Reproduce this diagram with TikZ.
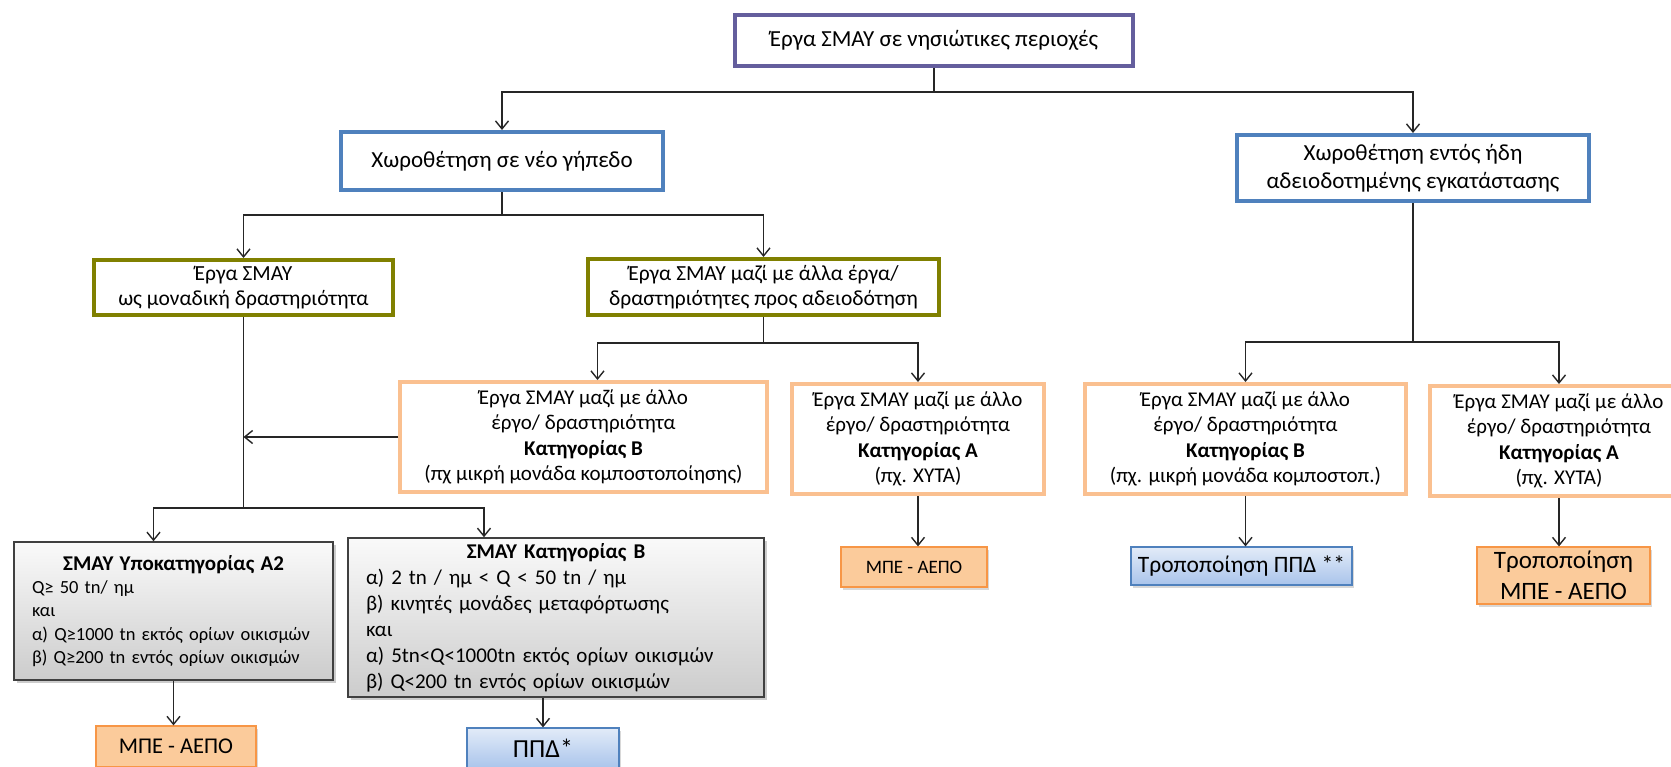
\documentclass[tikz,border=0pt]{standalone}
\usepackage{fontspec}
\setmainfont{Carlito}
\usetikzlibrary{arrows.meta,shadows}
\definecolor{region}{HTML}{645E9D}
\definecolor{siting}{HTML}{4F81BD}
\definecolor{smaygrp}{HTML}{808000}
\definecolor{category}{HTML}{FAC090}
\definecolor{mpefill}{HTML}{FBCB9B}
\definecolor{mpeline}{HTML}{F79646}
\definecolor{ppdtop}{HTML}{E2EBF8}
\definecolor{ppdbot}{HTML}{A9C4EB}

\begin{document}
\begin{tikzpicture}[x=1pt, y=-1pt,
    box/.style={rectangle, inner sep=0pt, align=center},
    topbx/.style={box, draw=region, line width=4pt, font=\fontsize{23}{28}\selectfont},
    sitebx/.style={box, draw=siting, line width=4pt, font=\fontsize{23}{28}\selectfont},
    grpbx/.style={box, draw=smaygrp, line width=4pt, font=\fontsize{21.5}{25}\selectfont},
    catbx/.style={box, draw=category, line width=4pt, font=\fontsize{21}{25.5}\selectfont},
    critbx/.style={box, align=left, inner xsep=18pt, draw=black!75, line width=1.5pt,
      top color=gray!4, bottom color=gray!40,
      drop shadow={shadow xshift=3pt, shadow yshift=-3pt, fill=black!40}},
    mpebx/.style={box, draw=mpeline, line width=1.2pt, fill=mpefill,
      drop shadow={shadow xshift=2pt, shadow yshift=-3pt, fill=black!30},
      font=\fontsize{22.5}{27}\selectfont},
    ppdbx/.style={box, draw=siting, line width=1.2pt, top color=ppdtop, bottom color=ppdbot,
      drop shadow={shadow xshift=2pt, shadow yshift=-3pt, fill=black!30},
      font=\fontsize{23.5}{27}\selectfont},
    conn/.style={black!85, line width=1.4pt},
    link/.style={conn, -{Straight Barb[length=8pt, width=13pt]}},
  ]
  \useasboundingbox (0,0) rectangle (1671,766);

  \node[topbx, minimum width=398pt, minimum height=51pt] (top) at (934,40.5)
    {Έργα ΣΜΑΥ σε νησιώτικες περιοχές};
  \node[sitebx, minimum width=322pt, minimum height=58pt] (new) at (502,161)
    {Χωροθέτηση σε νέο γήπεδο};
  \node[sitebx, minimum width=352pt, minimum height=66pt] (old) at (1413,168)
    {Χωροθέτηση εντός ήδη\\ αδειοδοτημένης εγκατάστασης};

  \coordinate (j0) at (934,92);
  \draw[link] (top.south) -- (j0) -| (new.north);
  \draw[link] (j0) -| (old.north);

  % new site
  \node[grpbx, minimum width=299pt, minimum height=55pt] (alone) at (243.5,287.5)
    {Έργα ΣΜΑΥ\\ ως μοναδική δραστηριότητα};
  \node[grpbx, minimum width=351pt, minimum height=56pt] (joint) at (763.5,287)
    {Έργα ΣΜΑΥ μαζί με άλλα έργα/\\ δραστηριότητες προς αδειοδότηση};
  \coordinate (j1) at (502,215);
  \draw[link] (new.south) -- (j1) -| (alone.north);
  \draw[link] (j1) -| (joint.north);

  \node[catbx, minimum width=367pt, minimum height=110pt] (catB) at (583.5,437)
    {Έργα ΣΜΑΥ μαζί με άλλο\\ έργο/ δραστηριότητα\\ \textbf{Κατηγορίας Β}\\ (πχ μικρή μονάδα κομποστοποίησης)};
  \node[catbx, minimum width=252pt, minimum height=110pt] (catA) at (918,439)
    {Έργα ΣΜΑΥ μαζί με άλλο\\ έργο/ δραστηριότητα\\ \textbf{Κατηγορίας Α}\\ (πχ. ΧΥΤΑ)};
  \coordinate (j2) at (763.5,343);
  \draw[link] (joint.south) -- (j2) -| ([xshift=14pt]catB.north);
  \draw[link] (j2) -| (catA.north);

  \node[critbx, text width=283pt, minimum width=319pt, minimum height=138pt,
    font=\fontsize{18.5}{23.3}\selectfont] (critA2) at (173.5,611)
    {\makebox[\linewidth]{\fontsize{21}{23.3}\selectfont\textbf{ΣΜΑΥ Υποκατηγορίας Α2}}\\ Q≥ 50 tn/ ημ\\ και\\
     α) Q≥1000 tn εκτός ορίων οικισμών\\ β) Q≥200 tn εντός ορίων οικισμών};
  \node[critbx, text width=380pt, minimum width=416pt, minimum height=159pt,
    font=\fontsize{21}{26}\selectfont] (critB) at (556,617.5)
    {\makebox[\linewidth]{\textbf{ΣΜΑΥ Κατηγορίας Β}}\\ α) 2 tn / ημ < Q < 50 tn / ημ\\
     β) κινητές μονάδες μεταφόρτωσης\\ και\\ α) 5tn<Q<1000tn εκτός ορίων οικισμών\\
     β) Q<200 tn εντός ορίων οικισμών};
  \coordinate (j3) at (243.5,508);
  \draw[conn] (alone.south) -- (j3);
  \draw[link] (catB.west) -- (catB.west -| j3);
  \draw[link] (j3) -| ([xshift=-20pt]critA2.north);
  \draw[link] (j3) -| ([xshift=-72pt]critB.north);

  \node[mpebx, minimum width=160pt, minimum height=41pt] (mpeA2) at (176,746.5) {ΜΠΕ - ΑΕΠΟ};
  \node[ppdbx, minimum width=152pt, minimum height=41pt, font=\fontsize{26}{30}\selectfont]
    (ppdB) at (543,748.5) {ΠΠΔ*};
  \node[mpebx, minimum width=146pt, minimum height=40pt, font=\fontsize{19}{25}\selectfont]
    (mpeA) at (914,567) {ΜΠΕ - ΑΕΠΟ};
  \draw[link] (critA2.south) -- (critA2.south |- mpeA2.north);
  \draw[link] (ppdB.north |- critB.south) -- (ppdB.north);
  \draw[link] (catA.south) -- (catA.south |- mpeA.north);

  % existing site
  \node[catbx, minimum width=321pt, minimum height=110pt] (catB2) at (1245.5,439)
    {Έργα ΣΜΑΥ μαζί με άλλο\\ έργο/ δραστηριότητα\\ \textbf{Κατηγορίας Β}\\ (πχ. μικρή μονάδα κομποστοπ.)};
  \node[catbx, minimum width=258pt, minimum height=110pt] (catA2) at (1559,441)
    {Έργα ΣΜΑΥ μαζί με άλλο\\ έργο/ δραστηριότητα\\ \textbf{Κατηγορίας Α}\\ (πχ. ΧΥΤΑ)};
  \coordinate (j4) at (1413,342);
  \draw[link] (old.south) -- (j4) -| (catB2.north);
  \draw[link] (j4) -| (catA2.north);

  \node[ppdbx, minimum width=221pt, minimum height=38pt] (ppdmod) at (1241.5,566)
    {Τροποποίηση ΠΠΔ **};
  \node[mpebx, minimum width=173pt, minimum height=57pt, font=\fontsize{25}{31}\selectfont]
    (mpemod) at (1563.5,575.5) {Τροποποίηση\\ ΜΠΕ - ΑΕΠΟ};
  \draw[link] (catB2.south) -- (catB2.south |- ppdmod.north);
  \draw[link] (catA2.south) -- (catA2.south |- mpemod.north);
\end{tikzpicture}
\end{document}
